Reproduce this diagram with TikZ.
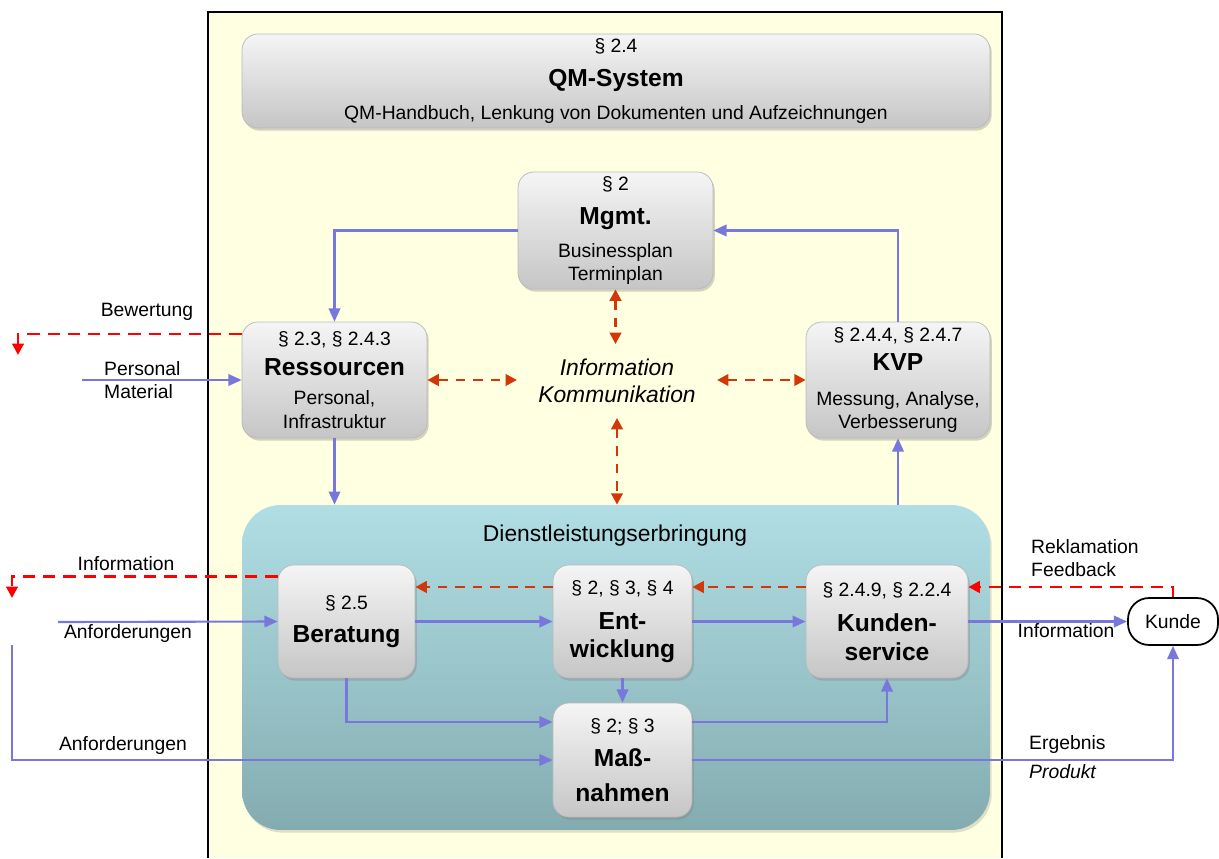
\documentclass[tikz,border=0pt]{standalone}
\usepackage{fontspec}
\setmainfont{Liberation Sans}
\usetikzlibrary{positioning,calc,arrows.meta,shadows}

\definecolor{bgyellow}{RGB}{255,255,225}
\definecolor{flowblue}{RGB}{120,120,220}
\definecolor{fbred}{RGB}{255,0,0}
\definecolor{comred}{RGB}{210,55,10}
\definecolor{dltop}{RGB}{176,222,228}
\definecolor{dlbot}{RGB}{132,172,176}

\newcommand{\boxtitle}[1]{{\fontsize{14}{17}\selectfont\bfseries #1}}

\begin{document}
\begin{tikzpicture}[x=0.02cm,y=-0.02cm,
    every node/.style={font=\fontsize{11}{13.5}\selectfont},
    gbox/.style={draw=gray!55, rounded corners=9pt, top color=gray!8, bottom color=gray!45,
        drop shadow={opacity=0.35, shadow xshift=1pt, shadow yshift=-1.5pt}, align=center, inner sep=2pt},
    flow/.style={draw=flowblue, line width=1.2pt, -{Triangle[length=7.5pt,width=6.5pt]}},
    fb/.style={draw=fbred, line width=1.6pt, dash pattern=on 7pt off 4.5pt, -{Triangle[length=6.5pt,width=6.5pt]}},
    com/.style={draw=comred, line width=1.6pt, dash pattern=on 5.5pt off 4.5pt, -{Triangle[length=6.5pt,width=6.5pt]}},
    combi/.style={com, {Triangle[length=6.5pt,width=6.5pt]}-{Triangle[length=6.5pt,width=6.5pt]}}
]
    \useasboundingbox (0,0) rectangle (1219,858);

    % Frame
    \fill[bgyellow] (208,12) rectangle (1002,858);
    \draw[line width=1pt] (208,858) -- (208,12) -- (1002,12) -- (1002,858);

    % QM-System
    \node[gbox, minimum width=14.96cm, minimum height=1.88cm] (qm) at (616,81)
        {\S\ 2.4\\[6pt] \boxtitle{QM-System}\\[5.5pt] QM-Handbuch,\ Lenkung von Dokumenten und Aufzeichnungen};

    % Upper boxes
    \node[gbox, minimum width=3.9cm, minimum height=2.34cm] (mgmt) at (615.5,230.5)
        {\S\ 2\\[6pt] \boxtitle{Mgmt.}\\[5pt] Businessplan\\ Terminplan};
    \node[gbox, minimum width=3.7cm, minimum height=2.32cm] (res) at (334.5,380)
        {\S\ 2.3, \S\ 2.4.3\\[3.5pt] \boxtitle{Ressourcen}\\[3pt] Personal,\\ Infrastruktur};
    \node[gbox, minimum width=3.68cm, minimum height=2.32cm] (kvp) at (898,380)
        {\S\ 2.4.4, \S\ 2.4.7\\[3.5pt] \boxtitle{KVP}\\[6pt] Messung, Analyse,\\ Verbesserung};
    \node[font=\fontsize{13}{15}\selectfont\itshape, align=center, inner xsep=0.42cm, inner ysep=0.3cm] (info) at (617,381)
        {Information\\ Kommunikation};

    % Dienstleistungserbringung
    \node[rounded corners=22pt, top color=dltop, bottom color=dlbot, minimum width=14.96cm, minimum height=6.5cm,
        drop shadow={opacity=0.25, shadow xshift=1pt, shadow yshift=-1.5pt}] (dl) at (616,667.5) {};
    \node[font=\fontsize{13}{15}\selectfont] (dltitle) at (615,536) {Dienstleistungserbringung};

    \node[gbox, minimum width=2.74cm, minimum height=2.26cm] (beratung) at (346.5,621.5)
        {\S\ 2.5\\[5pt] \boxtitle{Beratung}};
    \node[gbox, minimum width=2.78cm, minimum height=2.26cm] (entw) at (622.5,621.5)
        {\S\ 2, \S\ 3, \S\ 4\\[6.5pt] \boxtitle{Ent-}\\[2.5pt] \boxtitle{wicklung}};
    \node[gbox, minimum width=3.24cm, minimum height=2.26cm] (kunserv) at (887,621.5)
        {\S\ 2.4.9, \S\ 2.2.4\\[6.5pt] \boxtitle{Kunden-}\\[2.5pt] \boxtitle{service}};
    \node[gbox, minimum width=2.78cm, minimum height=2.28cm] (mass) at (622.5,760)
        {\S\ 2; \S\ 3\\[6pt] \boxtitle{Maß-}\\[6.5pt] \boxtitle{nahmen}};

    \node[draw, line width=1pt, rounded corners=12pt, minimum width=1.8cm, minimum height=0.94cm] (kunde) at (1173,621.5) {Kunde};

    % Outer labels
    \node (lbew) at (147,312) {Bewertung};
    \node[align=left, anchor=west] (lpm) at (98,380) {Personal\\ Material};
    \node (linfo) at (126,564) {Information};
    \node (lanf1) at (128,633) {Anforderungen};
    \node (lanf2) at (123,745) {Anforderungen};
    \node[align=left, anchor=west] (lrek) at (1025,558) {Reklamation\\ Feedback};
    \node (linfo2) at (1066,631) {Information};
    \node[anchor=west] (lerg) at (1023,744) {Ergebnis};
    \node[anchor=west, font=\fontsize{11}{13.5}\selectfont\itshape] (lprod) at (1023,772) {Produkt};

    % Free ends
    \coordinate (pm) at (82,380);
    \coordinate (anf1) at (58,622);
    \coordinate (anf2) at (12,645);
    \coordinate (bew) at (18,355);
    \coordinate (infoend) at (12,598);

    % Blue flows
    \draw[flow] (mgmt.west) -| (res.north);
    \draw[flow] (kvp.north) |- (mgmt.east);
    \draw[flow] (res.south) -- (res.south |- dl.north);
    \draw[flow] (dl.north -| kvp.south) -- (kvp.south);
    \draw[flow] (pm) -- (res.west);
    \draw[flow] (anf1) -- (beratung.west);
    \draw[flow] (beratung.east) -- (entw.west);
    \draw[flow] (entw.east) -- (kunserv.west);
    \draw[flow] (kunserv.east) -- (kunde.west);
    \draw[flow] (entw.south) -- (mass.north);
    \draw[flow] (beratung.south) |- ([yshift=0.76cm]mass.west);
    \draw[flow] ([yshift=0.76cm]mass.east) -| (kunserv.south);
    \draw[flow] (anf2) |- (mass.west);
    \draw[flow] (mass.east) -| (kunde.south);

    % Feedback
    \draw[fb] ([yshift=0.92cm]res.west) -| (bew);
    \draw[fb] ([yshift=0.9cm]beratung.west) -| (infoend);
    \draw[fb] (kunde.north) |- ([yshift=0.69cm]kunserv.east);

    % Communication
    \draw[combi] (mgmt.south) -- (mgmt.south |- info.north);
    \draw[combi] (info.south) -- (info.south |- dl.north);
    \draw[combi] (res.east) -- (res.east -| info.west);
    \draw[combi] (kvp.west -| info.east) -- (kvp.west);
    \draw[com] ([yshift=0.69cm]entw.west) -- ([yshift=0.69cm]entw.west -| beratung.east);
    \draw[com] ([yshift=0.69cm]kunserv.west) -- ([yshift=0.69cm]kunserv.west -| entw.east);

\end{tikzpicture}
\end{document}
